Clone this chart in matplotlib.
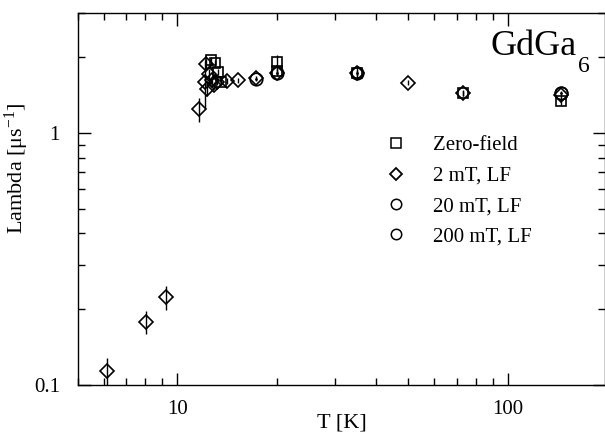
import numpy as np
import matplotlib.pyplot as plt
from matplotlib.lines import Line2D
from matplotlib.ticker import NullFormatter

plt.rcParams['font.family'] = ['Liberation Serif', 'DejaVu Serif']
plt.rcParams['mathtext.fontset'] = 'stix'

# Zero-field
T_zf = [12.6, 13.0, 13.3, 13.5, 20, 20, 35, 73, 145]
L_zf = [1.95, 1.90, 1.75, 1.60, 1.92, 1.76, 1.74, 1.44, 1.34]
E_zf = [0.06, 0.06, 0.05, 0.05, 0.13, 0.05, 0.05, 0.04, 0.04]

# 2 mT, LF
T_2 = [6.1, 8.05, 9.2, 11.66, 12.1, 12.2, 12.3, 12.5, 12.7, 12.9, 13.2,
       14.1, 15.3, 17.3, 20, 35, 50, 73, 145]
L_2 = [0.114, 0.178, 0.223, 1.245, 1.60, 1.88, 1.50, 1.72, 1.62, 1.55, 1.60,
       1.61, 1.62, 1.65, 1.74, 1.74, 1.59, 1.44, 1.42]
E_2 = [0.014, 0.018, 0.025, 0.14, 0.35, 0.10, 0.10, 0.08, 0.06, 0.05, 0.05,
       0.04, 0.04, 0.04, 0.05, 0.10, 0.03, 0.03, 0.05]

# 20 mT, LF
T_20 = [17.3, 20, 35, 145]
L_20 = [1.64, 1.73, 1.74, 1.45]

# 200 mT, LF
T_200 = [145]
L_200 = [1.44]

labels = ['Zero-field', '2 mT, LF', '20 mT, LF', '200 mT, LF']

fig = plt.figure(figsize=(6.05, 4.36), dpi=100)
ax = fig.add_axes([0.129, 0.117, 0.871, 0.853])

kw = dict(ls='none', mfc='none', mec='black', mew=1.2, ecolor='black',
          elinewidth=1.0, capsize=0)
ax.errorbar(T_zf, L_zf, yerr=E_zf, marker='s', ms=7.5, **kw)
ax.errorbar(T_2, L_2, yerr=E_2, marker='D', ms=7, **kw)
ax.plot(T_20, L_20, ls='none', marker='o', ms=9, mfc='none', mec='black', mew=1.2)
ax.plot(T_20, L_20, ls='none', marker='.', ms=2, color='black')
ax.plot(T_200, L_200, ls='none', marker='o', ms=9, mfc='none', mec='black', mew=1.2)

ax.set_xscale('log')
ax.set_yscale('log')
ax.set_xlim(5, 197)
ax.set_ylim(0.1, 3.0)
ax.set_xticks([10, 100], ['10', '100'])
ax.set_yticks([0.1, 1], ['0.1', '1'])
ax.xaxis.set_minor_formatter(NullFormatter())
ax.yaxis.set_minor_formatter(NullFormatter())
ax.tick_params(which='both', direction='in', top=True, right=True,
               labelsize=15, width=1.0)
ax.tick_params(axis='x', which='major', length=9, pad=11)
ax.tick_params(axis='y', which='major', length=9, pad=13)
ax.tick_params(which='minor', length=5)
for s in ax.spines.values():
    s.set_linewidth(1.0)

ax.set_xlabel('T [K]', fontsize=16, labelpad=-4)
ax.set_ylabel(r'Lambda [$\mathregular{\mu s^{-1}}$]', fontsize=16)
ax.yaxis.set_label_coords(-0.089, 0.583)

ax.text(0.947, 0.955, 'GdGa', transform=ax.transAxes,
        ha='right', va='top', fontsize=26)
ax.text(0.949, 0.857, '6', transform=ax.transAxes,
        ha='left', va='center', fontsize=17)

# legend entries (markers only)
handles = [
    Line2D([], [], ls='none', marker='s', ms=7, mfc='none', mec='black', mew=1.1),
    Line2D([], [], ls='none', marker='D', ms=6, mfc='none', mec='black', mew=1.3),
    Line2D([], [], ls='none', marker='o', ms=7.5, mfc='none', mec='black', mew=1.1),
    Line2D([], [], ls='none', marker='o', ms=7.5, mfc='none', mec='black', mew=1.1),
]
ax.legend(handles, labels, loc='upper left', bbox_to_anchor=(0.583, 0.67),
          frameon=False, fontsize=15, labelspacing=0.52, handlelength=1.0,
          handletextpad=1.3, borderaxespad=0, borderpad=0)

fig.savefig('out.png', dpi=100)
